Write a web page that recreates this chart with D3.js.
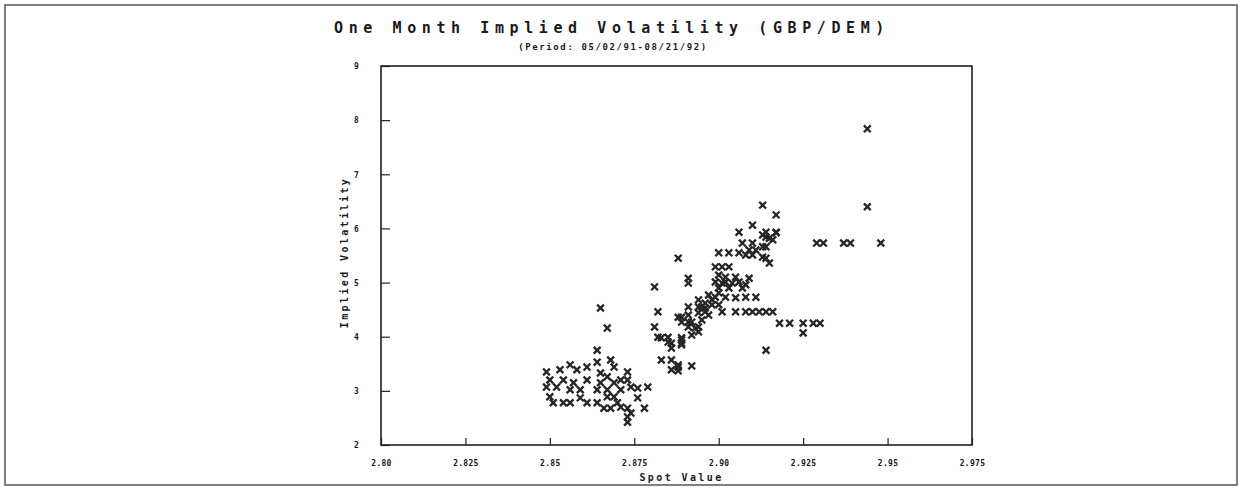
<!DOCTYPE html>
<html lang="en">
<head>
<meta charset="utf-8">
<title>One Month Implied Volatility (GBP/DEM)</title>
<script src="https://d3js.org/d3.v7.min.js"></script>
<style>
  body { margin: 0; background: #fff; }
  svg text { font-family: "DejaVu Sans Mono", "Liberation Mono", monospace; fill: #1a1a1a; font-weight: bold; }
  .title { font-size: 15px; letter-spacing: 5.6px; }
  .subtitle { font-size: 9px; letter-spacing: 1.6px; }
  .tick-label { font-size: 8px; letter-spacing: 0.3px; }
  .axis-label { font-size: 10px; letter-spacing: 2.4px; }
</style>
</head>
<body>
<svg width="1245" height="492"></svg>
<script>
// spot value / implied volatility pairs
var spot = [
  2.849, 2.853, 2.856, 2.858, 2.861, 2.864, 2.868, 2.869, 2.865, 2.867, 2.873,
  2.850, 2.854, 2.857, 2.865, 2.869, 2.871, 2.873, 2.849, 2.852, 2.856, 2.864,
  2.867, 2.874, 2.876, 2.879, 2.850, 2.851, 2.854, 2.859, 2.861, 2.864, 2.866,
  2.868, 2.870, 2.871, 2.873, 2.876, 2.878, 2.873, 2.873, 2.874, 2.856, 2.859,
  2.861, 2.867, 2.871, 2.869, 2.865, 2.867, 2.864,
  2.881, 2.891, 2.882, 2.881, 2.883, 2.885, 2.889, 2.886, 2.889, 2.883, 2.886,
  2.888, 2.892, 2.888, 2.888, 2.891, 2.894, 2.895, 2.898, 2.900, 2.901,
  2.913, 2.917, 2.910, 2.906, 2.914, 2.917, 2.914, 2.916, 2.907, 2.910, 2.914,
  2.909, 2.911, 2.908, 2.910, 2.900, 2.903, 2.906, 2.914, 2.915, 2.888, 2.899,
  2.901, 2.903, 2.891, 2.900, 2.902, 2.905, 2.899, 2.902, 2.904, 2.906, 2.909,
  2.900, 2.903, 2.908, 2.907, 2.897, 2.899, 2.902, 2.905, 2.908, 2.911, 2.894,
  2.896, 2.891, 2.894, 2.896, 2.898, 2.900, 2.901, 2.905, 2.908, 2.910, 2.912,
  2.914, 2.916, 2.889, 2.891, 2.894, 2.896, 2.897, 2.889, 2.892, 2.895, 2.893,
  2.894, 2.892, 2.891, 2.918, 2.921, 2.925, 2.928, 2.930, 2.925, 2.914, 2.882,
  2.885, 2.889, 2.886, 2.889, 2.888, 2.886,
  2.944, 2.944, 2.929, 2.931, 2.937, 2.939, 2.948, 2.913, 2.917, 2.915, 2.913,
  2.913
];
var vol = [
  3.35, 3.39, 3.48, 3.39, 3.44, 3.53, 3.57, 3.44, 3.33, 3.26, 3.35,
  3.20, 3.20, 3.15, 3.15, 3.15, 3.20, 3.20, 3.07, 3.07, 3.02, 3.02,
  3.02, 3.07, 3.05, 3.07, 2.89, 2.78, 2.78, 2.87, 2.78, 2.78, 2.68,
  2.68, 2.78, 2.70, 2.68, 2.87, 2.68, 2.52, 2.42, 2.59, 2.78, 3.02,
  3.20, 2.89, 3.02, 2.89, 4.53, 4.16, 3.75,
  4.92, 4.99, 4.46, 4.18, 3.98, 3.90, 3.94, 3.79, 3.88, 3.57, 3.57,
  3.44, 3.46, 3.37, 4.36, 4.27, 4.18, 4.55, 4.68, 4.81, 4.99,
  6.43, 6.25, 6.06, 5.93, 5.93, 5.93, 5.84, 5.79, 5.73, 5.73, 5.66,
  5.60, 5.60, 5.51, 5.51, 5.55, 5.55, 5.55, 5.45, 5.36, 5.45, 5.29,
  5.29, 5.29, 5.08, 5.14, 5.10, 5.10, 5.01, 5.01, 4.99, 5.01, 5.08,
  4.90, 4.90, 4.96, 4.90, 4.77, 4.73, 4.73, 4.72, 4.73, 4.73, 4.68,
  4.62, 4.55, 4.55, 4.53, 4.59, 4.59, 4.46, 4.46, 4.46, 4.46, 4.46,
  4.46, 4.46, 4.36, 4.40, 4.44, 4.46, 4.40, 4.27, 4.27, 4.31, 4.16,
  4.09, 4.03, 4.18, 4.25, 4.25, 4.25, 4.25, 4.25, 4.07, 3.75, 3.99,
  3.99, 3.98, 3.88, 3.85, 3.48, 3.39,
  7.84, 6.40, 5.73, 5.73, 5.73, 5.73, 5.73, 5.88, 5.92, 5.82, 5.66,
  5.47
];
var xTicks = [2.80, 2.825, 2.85, 2.875, 2.90, 2.925, 2.95, 2.975];
var xTickLabels = ["2.80", "2.825", "2.85", "2.875", "2.90", "2.925", "2.95", "2.975"];
var yTicks = [2, 3, 4, 5, 6, 7, 8, 9];

var svg = d3.select("svg"),
    margin = {top: 66, right: 273, bottom: 47, left: 381},
    width = +svg.attr("width") - margin.left - margin.right,
    height = +svg.attr("height") - margin.top - margin.bottom;

// scanned page frame
svg.append("rect")
    .attr("x", 5).attr("y", 5)
    .attr("width", 1232).attr("height", 480)
    .attr("fill", "none")
    .attr("stroke", "#555")
    .attr("stroke-width", 1.5);

svg.append("text")
    .attr("class", "title")
    .attr("x", 612).attr("y", 33)
    .attr("text-anchor", "middle")
    .text("One Month Implied Volatility (GBP/DEM)");

svg.append("text")
    .attr("class", "subtitle")
    .attr("x", 613).attr("y", 50)
    .attr("text-anchor", "middle")
    .text("(Period: 05/02/91-08/21/92)");

var x = d3.scaleLinear().domain([2.80, 2.975]).range([0, width]),
    y = d3.scaleLinear().domain([2, 9]).range([height, 0]);

var g = svg.append("g")
    .attr("transform", "translate(" + margin.left + "," + margin.top + ")");

g.append("rect")
    .attr("width", width).attr("height", height)
    .attr("fill", "none")
    .attr("stroke", "#111")
    .attr("stroke-width", 1.5);

var xAxis = g.append("g")
    .attr("transform", "translate(0," + height + ")")
    .call(d3.axisBottom(x).tickValues(xTicks)
      .tickSize(-7).tickPadding(15)
      .tickFormat(function(d, i) { return xTickLabels[i]; }));

var yAxis = g.append("g")
    .call(d3.axisLeft(y).tickValues(yTicks)
      .tickSize(-9).tickPadding(22)
      .tickFormat(d3.format("d")));

[xAxis, yAxis].forEach(function(a) {
  a.select(".domain").remove();
  a.selectAll(".tick line").attr("stroke", "#222").attr("stroke-width", 1.2);
  a.selectAll(".tick text").attr("class", "tick-label")
    .attr("font-family", null).attr("font-size", null);
});
yAxis.selectAll(".tick text").attr("dy", "0.35em");

g.append("text")
    .attr("class", "axis-label")
    .attr("x", width / 2 + 5).attr("y", height + 36)
    .attr("text-anchor", "middle")
    .text("Spot Value");

g.append("text")
    .attr("class", "axis-label")
    .attr("transform", "rotate(-90)")
    .attr("x", -height / 2 + 3).attr("y", -33)
    .attr("text-anchor", "middle")
    .text("Implied Volatility");

var cross = d3.symbol().type(d3.symbolTimes).size(32);

g.selectAll(".pt")
    .data(spot.map(function(s, i) { return [s, vol[i]]; }))
  .enter().append("path")
    .attr("class", "pt")
    .attr("transform", function(d) { return "translate(" + x(d[0]) + "," + y(d[1]) + ")"; })
    .attr("d", cross)
    .attr("fill", "none")
    .attr("stroke", "#262626")
    .attr("stroke-width", 2.3);
</script>
</body>
</html>
